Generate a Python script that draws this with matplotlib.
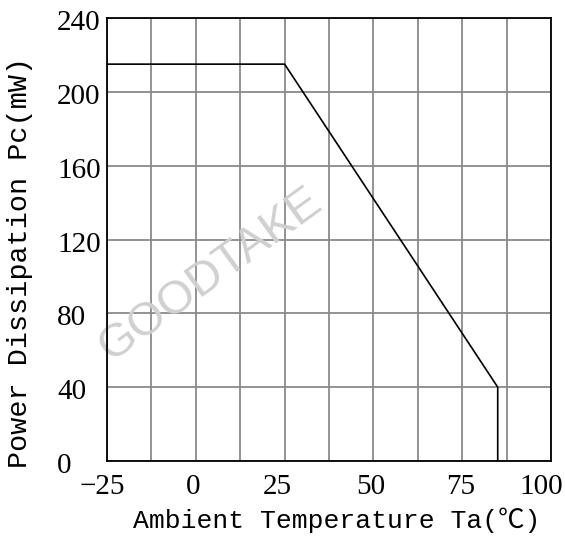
import matplotlib
matplotlib.use("Agg")
import matplotlib.pyplot as plt
from matplotlib.ticker import MultipleLocator
from matplotlib.transforms import ScaledTranslation

# Data
temp_c = [-25, 25, 85, 85]
power_mw = [215, 215, 40, 0]
x_ticks = [-25, 0, 25, 50, 75, 100]
y_ticks = [0, 40, 80, 120, 160, 200, 240]
x_label = "Ambient Temperature Ta(℃)"
y_label = "Power Dissipation Pc(mW)"
watermark = "GOODTAKE"

fig = plt.figure(figsize=(5.65, 5.39), dpi=100)
ax = fig.add_axes([107/565, 1-461/539, 444/565, 443/539])

ax.set_xlim(-25, 100)
ax.set_ylim(0, 240)
ax.xaxis.set_minor_locator(MultipleLocator(12.5))
ax.set_xticks(x_ticks)
ax.set_yticks(y_ticks)
ax.set_xticklabels([str(v).replace("-", "\u2212") for v in x_ticks],
                   family=["Liberation Serif"], fontsize=21)
ax.set_yticklabels([str(v) for v in y_ticks], family=["Liberation Serif"], fontsize=21,
                   ha="left")
ax.tick_params(which="both", length=0)
ax.tick_params(axis="x", pad=9)
ax.tick_params(axis="y", pad=36)

# small horizontal nudges of the x tick labels (pixels), as in the reference
x_shift_px = [-5, -3, -7, -3, -2, -10]
for lab, dx in zip(ax.get_xticklabels(), x_shift_px):
    lab.set_transform(lab.get_transform() + ScaledTranslation(dx / 100, 0, fig.dpi_scale_trans))
for lab in ax.get_yticklabels():
    lab.set_transform(lab.get_transform() + ScaledTranslation(0, -2 / 100, fig.dpi_scale_trans))

ax.grid(True, which="both", axis="x", color="#8a8a8a", linewidth=1.3)
ax.grid(True, which="major", axis="y", color="#8a8a8a", linewidth=1.3)
ax.set_axisbelow(True)
for s in ax.spines.values():
    s.set_color("black")
    s.set_linewidth(1.3)
    s.set_zorder(5)

ax.plot(temp_c, power_mw, color="black", linewidth=1.2, zorder=4)

ax.set_xlabel(x_label, family=["Liberation Mono", "Noto Sans CJK SC"], fontsize=19)
ax.xaxis.label.set_va("center")
ax.xaxis.set_label_coords(0.518, -0.133)
ax.set_ylabel(y_label, family=["Liberation Mono", "Noto Sans CJK SC"], fontsize=20.5)
ax.yaxis.label.set_va("center")
ax.yaxis.set_label_coords(-0.196, 0.447)

ax.text(0.232, 0.42, watermark, transform=ax.transAxes, rotation=36,
        fontsize=34, color="#d0d0d0", family=["Liberation Sans"],
        ha="center", va="center", zorder=1)

fig.savefig("out.png", dpi=100)
